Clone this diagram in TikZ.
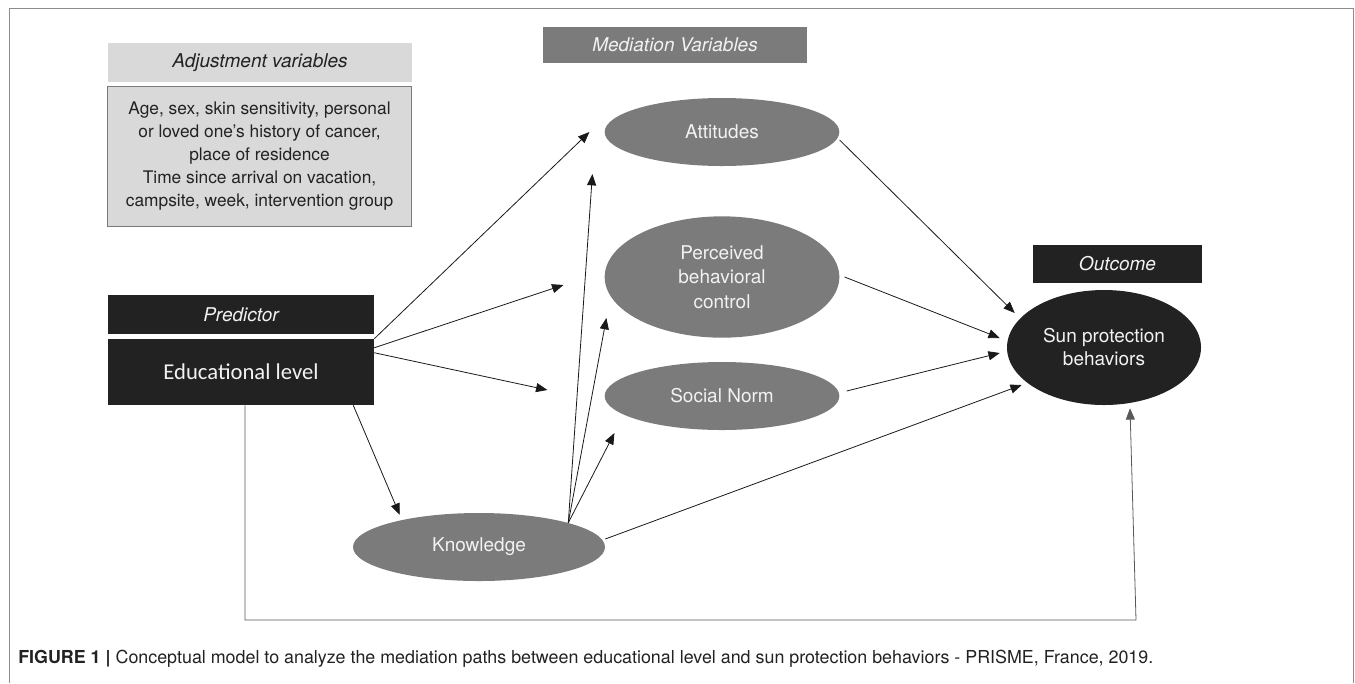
\documentclass[tikz,border=0pt]{standalone}
\usepackage{fontspec}
\setmainfont{TeX Gyre Heros}
\newfontfamily\calibri{Carlito}
\usetikzlibrary{shapes.geometric,arrows.meta,calc}

\definecolor{lightbox}{HTML}{D9D9D9}
\definecolor{midbox}{HTML}{7B7B7B}
\definecolor{darkbox}{HTML}{222222}
\definecolor{framegray}{HTML}{8C8C8C}
\definecolor{paletext}{HTML}{F2F2F2}

\begin{document}
\begin{tikzpicture}[x=0.75pt,y=-0.75pt,
    hdr/.style={inner sep=0pt, font=\fontsize{14.25}{17}\selectfont\itshape},
    medell/.style={ellipse, fill=midbox, text=paletext, inner sep=0pt, align=center,
      font=\fontsize{14.25}{18.4}\selectfont},
    arr/.style={-{Triangle[length=8.5pt,width=6.8pt]}, line width=0.6pt, draw=black!90}]
    \useasboundingbox (0,0) rectangle (1355,683);
    \draw[framegray, line width=0.75pt] (9,683) -- (9,8) -- (1353,8) -- (1353,683);

    \coordinate (bl) at (245,620);
    \coordinate (br) at (1136,620);

    % boxes
    \node[hdr, fill=lightbox, text=darkbox, minimum width=228pt, minimum height=29.25pt]
      (adjhdr) at (260,62.5) {Adjustment variables};
    \node[fill=lightbox, draw=midbox, line width=1.1pt, minimum width=228pt, minimum height=105pt,
      inner sep=0pt, align=center, text=darkbox, font=\fontsize{13}{17.25}\selectfont]
      (adj) at (259.5,156.5) {Age, sex, skin sensitivity, personal\\or loved one’s history of cancer,\\place of residence\\Time since arrival on vacation,\\campsite, week, intervention group};
    \node[hdr, fill=midbox, text=paletext, minimum width=198pt, minimum height=27pt]
      (medhdr) at (675,45) {Mediation Variables};
    \node[hdr, fill=darkbox, text=paletext, minimum width=199.5pt, minimum height=29.25pt]
      (predhdr) at (241,314.5) {Predictor};
    \node[fill=darkbox, text=paletext, minimum width=199.5pt, minimum height=49.5pt, inner sep=0pt,
      font=\calibri\fontsize{17}{20}\selectfont] (edu) at (241,372) {Educational level};
    \node[hdr, fill=darkbox, text=paletext, minimum width=126.75pt, minimum height=28.5pt]
      (outhdr) at (1117.5,264) {Outcome};

    % ellipses
    \node[medell, minimum width=176pt, minimum height=51pt] (att) at (722,132) {Attitudes};
    \node[medell, minimum width=176pt, minimum height=91pt] (pbc) at (722,277) {Perceived\\behavioral\\control};
    \node[medell, minimum width=176pt, minimum height=51pt] (sn) at (722,396) {Social Norm};
    \node[medell, minimum width=189pt, minimum height=51pt] (know) at (479,547) {Knowledge};
    \node[ellipse, fill=darkbox, text=paletext, minimum width=145.5pt, minimum height=86.25pt,
      inner sep=0pt, align=center, font=\fontsize{14.25}{17.25}\selectfont]
      (sun) at (1104,347.5) {Sun protection\\behaviors};

    % paths
    \draw[arr] (edu.north east) -- ($(att.west)+(-15,0)$);
    \draw[arr] ($(edu.north east)+(0,9)$) -- ($(pbc.west)+(-41,8)$);
    \draw[arr] ($(edu.north east)+(0,14)$) -- ($(sn.west)+(-57,-6)$);
    \draw[arr] ($(edu.south east)+(-21,0)$) -- ($(know.north west)+(10,-8)$);

    \draw[arr] (know.north east) -- ($(att.west)+(-12,42)$);
    \draw[arr] (know.north east) -- ($(pbc.west)+(2,41)$);
    \draw[arr] (know.north east) -- ($(sn.west)+(10,37)$);
    \draw[arr] ($(know.east)+(0,-8)$) -- ($(sun.west)+(15,37.5)$);

    \draw[arr] ($(att.east)+(0,8)$) -- ($(sun.west)+(8,-34.5)$);
    \draw[arr] ($(pbc.east)+(5,0)$) -- ($(sun.west)+(-7,-9.5)$);
    \draw[arr] ($(sn.east)+(7,-5)$) -- ($(sun.west)+(-7,5.5)$);

    \draw[arr, draw=black!65] ($(edu.south)+(4,0)$) -- (bl) -- (br) -- ($(sun.south)+(26,3)$);

    \node[anchor=base west, inner sep=0pt, text=darkbox, font=\fontsize{13.4}{16}\selectfont]
      (cap) at (18,663) {\textbf{FIGURE 1 |} Conceptual model to analyze the mediation paths between educational level and sun protection behaviors - PRISME, France, 2019.};
\end{tikzpicture}
\end{document}
